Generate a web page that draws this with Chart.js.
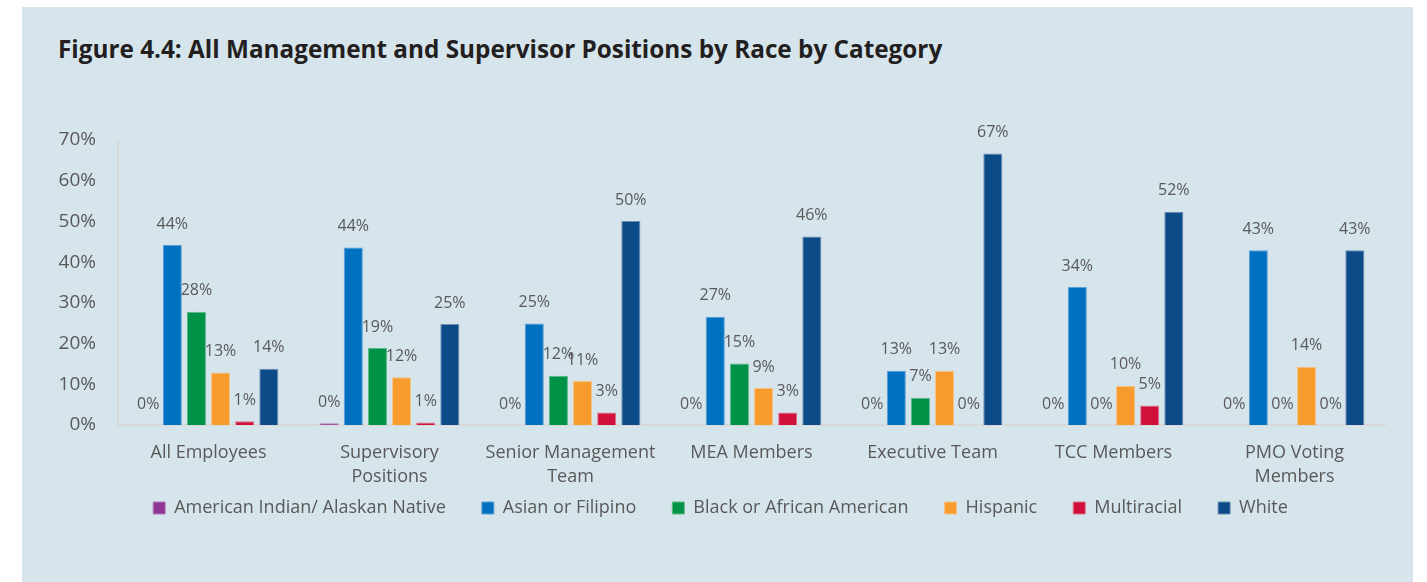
<!DOCTYPE html>
<html>
<head>
<meta charset="utf-8">
<script src="https://cdn.jsdelivr.net/npm/chart.js@4"></script>
<style>
  html, body { margin: 0; padding: 0; background: #fff; }
  body { width: 1427px; height: 582px; position: relative; overflow: hidden; }
  .panel { position: absolute; left: 22px; top: 7px; width: 1391px; height: 580px; background: #d6e4ec; }
  .title { position: absolute; left: 58px; top: 32px; font: bold 24.3px "Open Sans", sans-serif; color: #231f20; white-space: nowrap; }
  #chart { position: absolute; left: 0; top: 0; }
</style>
</head>
<body>
<div class="panel"></div>
<div class="title">Figure 4.4: All Management and Supervisor Positions by Race by Category</div>
<canvas id="chart" width="1427" height="582"></canvas>
<script>
const categories = [
  'All Employees',
  ['Supervisory', 'Positions'],
  ['Senior Management', 'Team'],
  'MEA Members',
  'Executive Team',
  'TCC Members',
  ['PMO Voting', 'Members']
];
const races = ['American Indian/ Alaskan Native', 'Asian or Filipino', 'Black or African American', 'Hispanic', 'Multiracial', 'White'];
const americanIndian = [0, 0.4, 0, 0, 0, 0, 0];
const asian = [44.2, 43.6, 24.9, 26.6, 13.3, 33.9, 42.9];
const black = [27.8, 18.9, 12.1, 15.1, 6.7, 0, 0];
const hispanic = [12.9, 11.7, 10.8, 9.1, 13.3, 9.6, 14.3];
const multiracial = [0.9, 0.6, 3.1, 3.1, 0, 4.8, 0];
const white = [13.8, 24.8, 50.1, 46.3, 66.7, 52.4, 42.9];
const yTicks = [0, 10, 20, 30, 40, 50, 60, 70];

const colors = ['#8f3595', '#0070c0', '#009245', '#f79c2c', '#d0103a', '#0d4a88'];
const borders = ['#b57cba', '#5a9fd6', '#5ab88a', '#f8c184', '#e0708a', '#6a8db4'];
const series = [americanIndian, asian, black, hispanic, multiracial, white];

Chart.defaults.font.family = '"Open Sans", sans-serif';
Chart.defaults.color = '#595959';

//value labels above each bar
const barLabels = {
  id: 'barLabels',
  afterDatasetsDraw(chart) {
    const ctx = chart.ctx;
    ctx.save();
    ctx.font = '16px "Open Sans", sans-serif';
    ctx.fillStyle = '#595959';
    ctx.textAlign = 'center';
    ctx.textBaseline = 'middle';
    chart.data.datasets.forEach((ds, i) => {
      chart.getDatasetMeta(i).data.forEach((bar, j) => {
        ctx.fillText(Math.round(ds.data[j]) + '%', bar.x, bar.y - 21);
      });
    });
    ctx.restore();
  }
};

// legend padding is small (it is also the vertical gap), so widen items with trailing spaces
const legendGap = '\u00a0'.repeat(6);
const defaultLabels = Chart.defaults.plugins.legend.labels.generateLabels;

new Chart(document.getElementById('chart'), {
  type: 'bar',
  data: {
    labels: categories,
    datasets: races.map((r, i) => ({
      label: r,
      data: series[i],
      backgroundColor: colors[i],
      borderColor: borders[i],
      borderWidth: 1,
      categoryPercentage: 0.8,
      barPercentage: 0.79
    }))
  },
  options: {
    responsive: false,
    animation: false,
    layout: { padding: { left: 56, right: 42, top: 140, bottom: 55 } },
    plugins: {
      legend: {
        position: 'bottom',
        labels: {
          boxWidth: 12, boxHeight: 12, padding: 8, font: { size: 18 }, color: '#595959',
          generateLabels: chart => defaultLabels(chart).map((l, i, a) => {
            if (i < a.length - 1) l.text = l.text + legendGap;
            return l;
          })
        }
      },
      tooltip: { enabled: false }
    },
    scales: {
      y: {
        min: 0,
        max: 70,
        afterFit: s => { s.width = 62; },
        afterBuildTicks: s => { s.ticks = yTicks.map(v => ({ value: v })); },
        ticks: { padding: 22, font: { size: 19 }, callback: v => v + '%' },
        grid: { display: false, drawTicks: false },
        border: { color: '#d9d9d9', width: 2 }
      },
      x: {
        afterFit: s => { s.height = 66; },
        ticks: { padding: 15, font: { size: 18, lineHeight: 1.38 }, maxRotation: 0 },
        grid: { display: false, drawTicks: false },
        border: { color: '#d9d9d9', width: 2 }
      }
    }
  },
  plugins: [barLabels]
});
</script>
</body>
</html>
